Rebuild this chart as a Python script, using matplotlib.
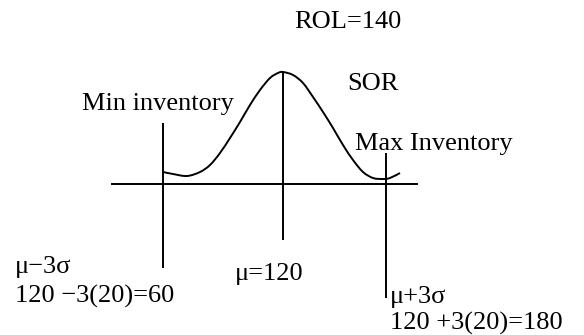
import matplotlib.pyplot as plt
from matplotlib.path import Path
from matplotlib.patches import PathPatch

# sketch of the stock distribution: x across the page, height above the base line
curve_x = [163, 173, 187, 200, 210, 220, 230, 240, 250, 260, 270, 278, 283,
           293, 303, 313, 323, 333, 343, 353, 363, 373, 383, 390, 400]
curve_h = [12, 10, 8, 12, 19, 31, 46, 62, 79, 94, 106, 111, 112,
           109, 101, 87, 72, 56, 39, 24, 12, 6, 5, 6, 11]

# min, mean, max markers
marker_x = [163, 283, 386]
marker_top = [61, 112, 31]
marker_bottom = [-84, -56, -114]

base_x = [112, 417]

labels = ["ROL=140", "SOR", "Min inventory", "Max Inventory",
          "\u03bc\u22123\u03c3", "120 \u22123(20)=60", "\u03bc=120",
          "\u03bc+3\u03c3", "120 +3(20)=180"]
label_x = [294, 347, 82, 355, 15, 15, 235, 390, 390]
label_y = [156, 94, 74, 34, -89, -119, -96, -119, -146]


def smooth_path(xs, ys):
    # catmull-rom through the points, drawn as cubic bezier pieces
    pts = list(zip(xs, ys))
    verts = [pts[0]]
    codes = [Path.MOVETO]
    n = len(pts)
    for i in range(n - 1):
        p0 = pts[max(i - 1, 0)]
        p1 = pts[i]
        p2 = pts[i + 1]
        p3 = pts[min(i + 2, n - 1)]
        c1 = (p1[0] + (p2[0] - p0[0]) / 6, p1[1] + (p2[1] - p0[1]) / 6)
        c2 = (p2[0] - (p3[0] - p1[0]) / 6, p2[1] - (p3[1] - p1[1]) / 6)
        verts += [c1, c2, p2]
        codes += [Path.CURVE4] * 3
    return Path(verts, codes)


fig = plt.figure(figsize=(5.84, 3.35), dpi=100)
ax = fig.add_axes([0, 0, 1, 1])
ax.set_xlim(0, 584)
ax.set_ylim(-151, 184)
ax.axis("off")

ax.plot(base_x, [0, 0], color="black", lw=1.4)
ax.add_patch(PathPatch(smooth_path(curve_x, curve_h), fill=False,
                       edgecolor="black", lw=1.4))
ax.vlines(marker_x, marker_bottom, marker_top, color="black", lw=1.4)

for txt, x, y in zip(labels, label_x, label_y):
    ax.text(x, y, txt, fontsize=19, family="Liberation Serif",
            ha="left", va="baseline")

fig.savefig("out.png", dpi=100)
